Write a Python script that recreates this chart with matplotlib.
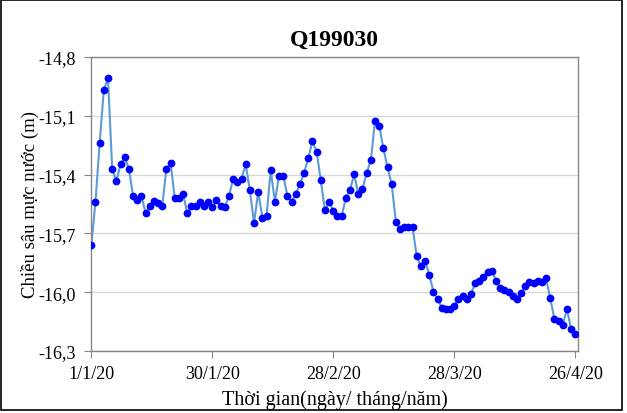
"""Q199030 groundwater depth chart."""
import matplotlib
matplotlib.use("Agg")
import matplotlib.pyplot as plt
import matplotlib.dates as mdates
import matplotlib.ticker as mticker
from matplotlib.patches import Rectangle
import pandas as pd

plt.rcParams["font.family"] = ["Liberation Serif", "DejaVu Serif"]

title = "Q199030"
start_date = "2020-01-01"
depth = [
    -15.758, -15.538, -15.239, -14.967, -14.909, -15.370, -15.434, -15.348, -15.312, -15.370,
    -15.508, -15.531, -15.508, -15.596, -15.559, -15.536, -15.545, -15.559, -15.370, -15.341,
    -15.518, -15.518, -15.500, -15.596, -15.562, -15.559, -15.538, -15.559, -15.538, -15.567,
    -15.531, -15.559, -15.567, -15.508, -15.422, -15.436, -15.422, -15.348, -15.479, -15.647,
    -15.487, -15.620, -15.613, -15.377, -15.538, -15.406, -15.406, -15.508, -15.538, -15.500,
    -15.449, -15.392, -15.317, -15.230, -15.283, -15.429, -15.582, -15.538, -15.587, -15.613,
    -15.613, -15.518, -15.479, -15.399, -15.500, -15.473, -15.392, -15.327, -15.127, -15.150,
    -15.266, -15.363, -15.449, -15.640, -15.678, -15.669, -15.669, -15.669, -15.816, -15.868,
    -15.839, -15.911, -15.997, -16.035, -16.079, -16.087, -16.087, -16.072, -16.035, -16.018,
    -16.035, -16.009, -15.955, -15.941, -15.924, -15.895, -15.890, -15.941, -15.977, -15.987,
    -15.997, -16.021, -16.035, -16.006, -15.970, -15.949, -15.955, -15.941, -15.949, -15.928,
    -16.030, -16.137, -16.146, -16.167, -16.086, -16.188, -16.213,
]
tick_dates = ["2020-01-01", "2020-01-30", "2020-02-28", "2020-03-28", "2020-04-26"]
y_ticks = [-16.3, -16.0, -15.7, -15.4, -15.1, -14.8]

dates = pd.date_range(start_date, periods=len(depth), freq="D")

fig = plt.figure(figsize=(6.27, 4.14), dpi=100)
ax = fig.add_axes([0.1451, 0.1498, 0.7768, 0.7101])

ax.plot(dates, depth, color="#5b9bd5", linewidth=1.5, zorder=2)
ax.plot(dates, depth, linestyle="none", marker="o", markersize=5.6,
        color="#0000ff", markeredgewidth=0, zorder=3)

ax.set_ylim(-16.3, -14.8)
ax.set_yticks(y_ticks)
ax.yaxis.set_major_formatter(
    mticker.FuncFormatter(lambda v, _: f"{v:.1f}".replace(".", ",")))
ax.grid(axis="y", color="#d9d9d9", linewidth=1)
ax.set_axisbelow(True)

xt = pd.to_datetime(tick_dates)
ax.set_xlim(dates[0] - pd.Timedelta(hours=2), dates[-1] + pd.Timedelta(hours=16))
ax.set_xticks(mdates.date2num(xt))
ax.set_xticklabels([f"{d.day}/{d.month}/{d.strftime('%y')}" for d in xt])

for s in ax.spines.values():
    s.set_color("#868686")
    s.set_linewidth(1)
ax.tick_params(axis="both", colors="#868686", labelcolor="black",
               labelsize=13, length=5, direction="out")
ax.tick_params(axis="y", pad=6)
ax.tick_params(axis="x", pad=5)

ax.set_title(title, fontsize=17, fontweight="bold", pad=9)
ax.set_ylabel("Chiều sâu mực nước (m)", fontsize=13.5, labelpad=-1)
ax.set_xlabel("Thời gian(ngày/ tháng/năm)", fontsize=14.5, labelpad=5)

fig.patches.append(Rectangle((0.0015, 0.008), 0.9905, 0.99, transform=fig.transFigure,
                             fill=False, edgecolor="black", linewidth=1.2))

fig.savefig("out.png", dpi=100)
